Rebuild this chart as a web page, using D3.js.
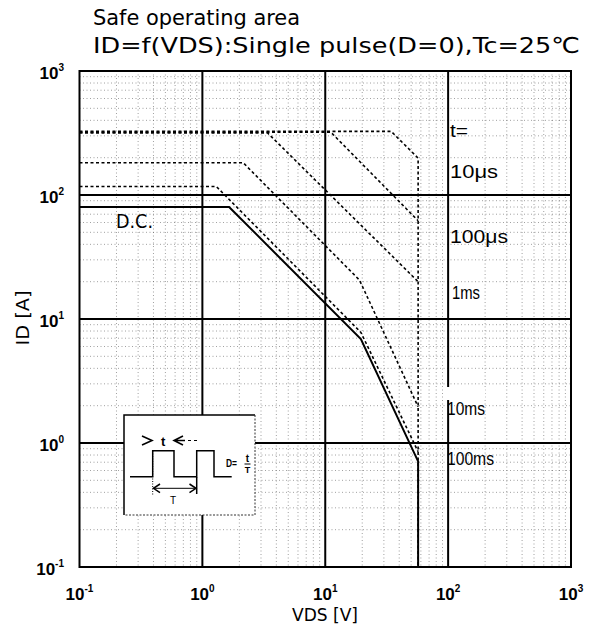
<!DOCTYPE html>
<html>
<head>
<meta charset="utf-8">
<script src="https://cdn.jsdelivr.net/npm/d3@7/dist/d3.min.js"></script>
<style>
  body { margin: 0; background: #fff; }
  svg { display: block; }
</style>
</head>
<body>
<svg id="chart" width="593" height="628"></svg>
<script>
// Axis decades and tick labels (base, exponent)
const xDecades = [0.1, 1, 10, 100, 1000];
const yDecades = [0.1, 1, 10, 100, 1000];
const xTickLabels = [["10", "-1"], ["10", "0"], ["10", "1"], ["10", "2"], ["10", "3"]];
const yTickLabels = [["10", "-1"], ["10", "0"], ["10", "1"], ["10", "2"], ["10", "3"]];

// SOA boundaries: drain-source voltage VDS [V] and drain current ID [A]
const vds10us  = [0.1, 34.4, 57, 57];
const id10us   = [326, 326, 198, 0.1];
const vds100us = [0.1, 11.1, 57];
const id100us  = [321, 321, 62];
const vds1ms   = [0.1, 3.4, 57];
const id1ms    = [316, 316, 20];
const vds10ms  = [0.1, 2.15, 19, 57];
const id10ms   = [182, 182, 20.6, 1.96];
const vds100ms = [0.1, 1.3, 19.5, 57];
const id100ms  = [117, 117, 7.8, 0.85];
const vdsDC    = [0.1, 1.65, 19.5, 57, 57];
const idDC     = [80, 80, 6.9, 0.71, 0.1];

const pulseLabels = ["t=", "10\u03bcs", "100\u03bcs", "1ms", "10ms", "100ms"];

const svg = d3.select("#chart");
const M = { left: 79.5, right: 571, top: 71, bottom: 567 };

const x = d3.scaleLog().domain([0.1, 1000]).range([M.left, M.right]);
const y = d3.scaleLog().domain([0.1, 1000]).range([M.bottom, M.top]);

const gothic = "'DejaVu Sans Condensed', 'DejaVu Sans', sans-serif";
const sans = "'Liberation Sans', Arial, sans-serif";

// Title
svg.append("text").attr("x", 93).attr("y", 25)
  .attr("font-family", gothic).attr("font-stretch", "condensed").attr("font-size", 22)
  .attr("textLength", 207).attr("lengthAdjust", "spacingAndGlyphs")
  .text("Safe operating area");
svg.append("text").attr("x", 93).attr("y", 53)
  .attr("font-family", gothic).attr("font-stretch", "condensed").attr("font-size", 22)
  .attr("textLength", 487).attr("lengthAdjust", "spacingAndGlyphs")
  .text("ID=f(VDS):Single pulse(D=0),Tc=25\u2103");

// Minor grid (2..9 within each decade), dotted
const minor = [];
for (let e = -1; e < 3; e++) for (let k = 2; k <= 9; k++) minor.push(k * Math.pow(10, e));

const grid = svg.append("g");
grid.selectAll("line.vx").data(minor).join("line")
  .attr("x1", d => x(d)).attr("x2", d => x(d))
  .attr("y1", M.top).attr("y2", M.bottom)
  .attr("stroke", "#555").attr("stroke-width", 1)
  .attr("stroke-dasharray", "1,2.5").attr("opacity", 0.55);
grid.selectAll("line.hy").data(minor).join("line")
  .attr("y1", d => y(d)).attr("y2", d => y(d))
  .attr("x1", M.left).attr("x2", M.right)
  .attr("stroke", "#555").attr("stroke-width", 1)
  .attr("stroke-dasharray", "1,2.5").attr("opacity", 0.55);

// Major decade lines
grid.selectAll("line.mx").data(xDecades.slice(1, -1)).join("line")
  .attr("x1", d => x(d)).attr("x2", d => x(d))
  .attr("y1", M.top).attr("y2", M.bottom)
  .attr("stroke", "#000").attr("stroke-width", 2);
grid.selectAll("line.my").data(yDecades.slice(1, -1)).join("line")
  .attr("y1", d => y(d)).attr("y2", d => y(d))
  .attr("x1", M.left).attr("x2", M.right)
  .attr("stroke", "#000").attr("stroke-width", 2);

// Curves
const line = d3.line().x(d => x(d[0])).y(d => y(d[1]));
const zip = (a, b) => a.map((v, i) => [v, b[i]]);
const dashed = [
  zip(vds10us, id10us), zip(vds100us, id100us), zip(vds1ms, id1ms),
  zip(vds10ms, id10ms), zip(vds100ms, id100ms)
];
svg.append("g").selectAll("path").data(dashed).join("path")
  .attr("d", line).attr("fill", "none")
  .attr("stroke", "#000").attr("stroke-width", 1.6)
  .attr("stroke-dasharray", "3,2.5");
svg.append("path").datum(zip(vdsDC, idDC))
  .attr("d", line).attr("fill", "none")
  .attr("stroke", "#000").attr("stroke-width", 2);

// Pulse-width labels
const labelPos = [
  { x: 450, y: 137, w: 18 },
  { x: 450, y: 178, w: 48 },
  { x: 450, y: 243, w: 58 },
  { x: 452, y: 299, w: 28 },
  { x: 447, y: 415, w: 38 },
  { x: 447, y: 465, w: 47 }
];
const lab = svg.append("g");
// small clearing above the 10ms label, where the decade line is interrupted
lab.append("rect").attr("x", 445).attr("y", 387)
  .attr("width", 40).attr("height", 13).attr("fill", "#fff");
pulseLabels.forEach((t, i) => {
  lab.append("text").attr("x", labelPos[i].x).attr("y", labelPos[i].y)
    .attr("font-family", sans).attr("font-size", 19)
    .attr("textLength", labelPos[i].w).attr("lengthAdjust", "spacingAndGlyphs")
    .text(t);
});

// D.C. label
svg.append("text").attr("x", 116).attr("y", 228)
  .attr("font-family", gothic).attr("font-stretch", "condensed").attr("font-size", 19)
  .attr("textLength", 37).attr("lengthAdjust", "spacingAndGlyphs")
  .text("D.C.");

// Inset: pulse definition
const ins = svg.append("g").attr("transform", "translate(124,415)");
ins.append("rect").attr("width", 131).attr("height", 100).attr("fill", "#fff");
ins.append("path").attr("d", "M0,100V0H131").attr("fill", "none")
  .attr("stroke", "#000").attr("stroke-width", 1.5);
ins.append("path").attr("d", "M131,0V100H0").attr("fill", "none")
  .attr("stroke", "#333").attr("stroke-width", 1).attr("stroke-dasharray", "2,1.5");
ins.append("path")
  .attr("d", "M6,61.7H28.7V35.7H50V61.7H72.7V35.7H90V61.7H107.7")
  .attr("fill", "none").attr("stroke", "#000").attr("stroke-width", 1.5);
ins.append("line").attr("x1", 28.7).attr("x2", 28.7).attr("y1", 36).attr("y2", 80)
  .attr("stroke", "#000").attr("stroke-width", 1).attr("stroke-dasharray", "1,1.5");
ins.append("line").attr("x1", 72.7).attr("x2", 72.7).attr("y1", 62).attr("y2", 79)
  .attr("stroke", "#000").attr("stroke-width", 1.5);
ins.append("line").attr("x1", 29).attr("x2", 72).attr("y1", 73.3).attr("y2", 73.3)
  .attr("stroke", "#000").attr("stroke-width", 1);
ins.append("path").attr("d", "M36,69L29.5,73.3L36,77.6M65.5,69L72,73.3L65.5,77.6")
  .attr("fill", "none").attr("stroke", "#000").attr("stroke-width", 1.5);
ins.append("text").attr("x", 49).attr("y", 89)
  .attr("font-family", sans).attr("font-size", 10).attr("text-anchor", "middle").text("T");
// "> t <- -" marker
ins.append("path").attr("d", "M18,21L28,25.5L18,30").attr("fill", "none")
  .attr("stroke", "#000").attr("stroke-width", 1.6);
ins.append("text").attr("x", 37).attr("y", 31)
  .attr("font-family", sans).attr("font-size", 13).attr("font-weight", "bold").text("t");
ins.append("path").attr("d", "M59,21L50,25.5L59,30M50,25.5H61").attr("fill", "none")
  .attr("stroke", "#000").attr("stroke-width", 1.6);
ins.append("path").attr("d", "M64,25.5H67M70,25.5H73").attr("fill", "none")
  .attr("stroke", "#000").attr("stroke-width", 1);
ins.append("text").attr("x", 102).attr("y", 52)
  .attr("font-family", sans).attr("font-size", 10).attr("font-weight", "bold")
  .attr("textLength", 11).attr("lengthAdjust", "spacingAndGlyphs").text("D=");
ins.append("text").attr("x", 123.5).attr("y", 47)
  .attr("font-family", sans).attr("font-size", 10).attr("font-weight", "bold")
  .attr("text-anchor", "middle").text("t");
ins.append("line").attr("x1", 120.5).attr("x2", 126.5).attr("y1", 49).attr("y2", 49)
  .attr("stroke", "#000").attr("stroke-width", 1);
ins.append("text").attr("x", 123.5).attr("y", 58)
  .attr("font-family", sans).attr("font-size", 9).attr("font-weight", "bold")
  .attr("text-anchor", "middle").text("T");

// Plot border
svg.append("rect").attr("x", M.left).attr("y", M.top)
  .attr("width", M.right - M.left).attr("height", M.bottom - M.top)
  .attr("fill", "none").attr("stroke", "#000").attr("stroke-width", 2);

// Tick labels
const xt = svg.append("g").selectAll("text").data(xDecades).join("text")
  .attr("x", d => x(d)).attr("y", 600)
  .attr("text-anchor", "middle")
  .attr("font-family", sans).attr("font-weight", "bold").attr("font-size", 17);
xt.append("tspan").text((d, i) => xTickLabels[i][0]);
xt.append("tspan").attr("dy", -8).attr("font-size", 10).text((d, i) => xTickLabels[i][1]);

const yt = svg.append("g").selectAll("text").data(yDecades).join("text")
  .attr("x", 64).attr("y", d => y(d) + 8)
  .attr("text-anchor", "end")
  .attr("font-family", sans).attr("font-weight", "bold").attr("font-size", 17);
yt.append("tspan").text((d, i) => yTickLabels[i][0]);
yt.append("tspan").attr("dy", -8).attr("font-size", 10).text((d, i) => yTickLabels[i][1]);

// Axis titles
svg.append("text").attr("x", 325).attr("y", 621).attr("text-anchor", "middle")
  .attr("font-family", gothic).attr("font-stretch", "condensed").attr("font-size", 18)
  .attr("textLength", 66).attr("lengthAdjust", "spacingAndGlyphs")
  .text("VDS [V]");
svg.append("text").attr("transform", "translate(29,318) rotate(-90)")
  .attr("text-anchor", "middle")
  .attr("font-family", gothic).attr("font-stretch", "condensed").attr("font-size", 18)
  .attr("textLength", 55).attr("lengthAdjust", "spacingAndGlyphs")
  .text("ID [A]");
</script>
</body>
</html>
